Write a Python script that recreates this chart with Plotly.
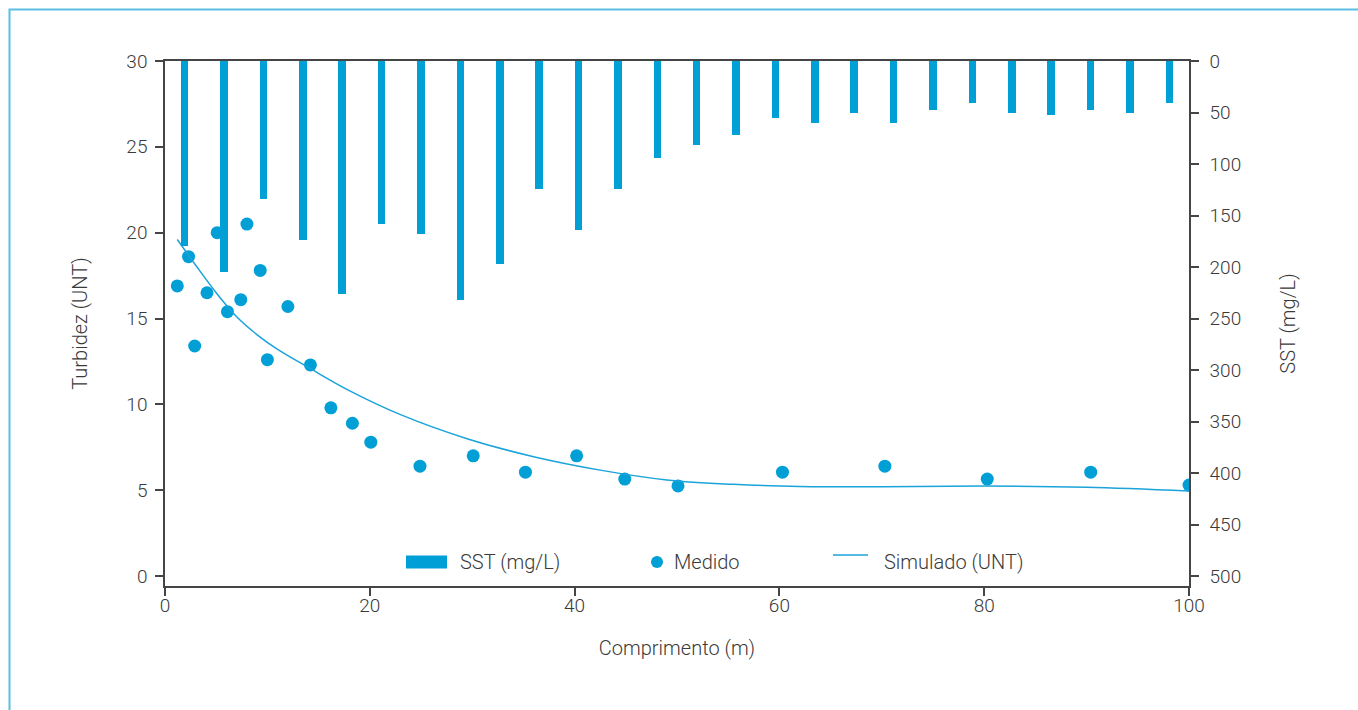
import plotly.graph_objects as go

# ---- data -------------------------------------------------------------
# SST (mg/L) per sampling point, shown as bars hanging from the top axis
sst_points = [str(i) for i in range(1, 27)]
sst_values = [180, 205, 134, 174, 226, 158, 168, 232, 197, 124, 164, 124, 94,
              82, 72, 55, 60, 50, 60, 48, 41, 50, 52, 48, 50, 41]

# measured turbidity (UNT) along the channel
med_x = [1.2, 2.3, 2.9, 4.1, 5.1, 6.1, 7.4, 8.0, 9.3, 10.0, 12.0, 14.2, 16.2,
         18.3, 20.1, 24.9, 30.1, 35.2, 40.2, 44.9, 50.1, 60.3, 70.3, 80.3,
         90.4, 100.0]
med_y = [16.9, 18.6, 13.4, 16.5, 20.0, 15.4, 16.1, 20.5, 17.8, 12.6, 15.7,
         12.3, 9.8, 8.9, 7.8, 6.4, 7.0, 6.05, 7.0, 5.65, 5.25, 6.05, 6.4,
         5.65, 6.05, 5.3]

# simulated turbidity (UNT)
sim_x = [1.2, 3, 5, 7, 9, 11, 14, 18, 23, 29.5, 36, 42.5, 49, 55.5, 62, 70,
         80, 90, 100]
sim_y = [19.6, 18.1, 16.5, 15.1, 14.05, 13.2, 12.15, 10.8, 9.4, 8.0, 6.95,
         6.17, 5.6, 5.34, 5.22, 5.2, 5.24, 5.17, 4.95]

x_ticks = [0, 20, 40, 60, 80, 100]
turb_ticks = [0, 5, 10, 15, 20, 25, 30]
sst_ticks = list(range(0, 501, 50))

# ---- style ------------------------------------------------------------
W, H = 1358, 710
ML, MR, MT, MB = 165, 169, 61, 124
BLUE = "#009fd6"
LINE_BLUE = "#1ba3da"
AXIS = "#454545"
TEXT = "#3a3a3a"
FAMILY = "Roboto"
FONT = dict(family=FAMILY, size=19, color=TEXT, weight=300)
TITLE_FONT = dict(family=FAMILY, size=20, color=TEXT, weight=300)

PW = W - ML - MR
PH = H - MT - MB


def px(x):
    return (x - ML) / PW


def py(y):
    return (H - MB - y) / PH


fig = go.Figure()

fig.add_trace(go.Bar(
    x=sst_points, y=sst_values, name="SST (mg/L)",
    xaxis="x2", yaxis="y2", width=0.19,
    marker=dict(color=BLUE, line=dict(width=0)), showlegend=False,
))
fig.add_trace(go.Scatter(
    x=med_x, y=med_y, name="Medido", mode="markers",
    marker=dict(color=BLUE, size=13), showlegend=False,
))
fig.add_trace(go.Scatter(
    x=sim_x, y=sim_y, name="Simulado (UNT)", mode="lines",
    line=dict(color=LINE_BLUE, width=1.5, shape="spline", smoothing=1.0),
    showlegend=False,
))

axis_common = dict(
    showline=True, linecolor=AXIS, linewidth=1.5,
    ticks="outside", ticklen=8, tickwidth=1.5, tickcolor=AXIS,
    showgrid=False, zeroline=False, tickfont=FONT,
)

fig.update_layout(
    width=W, height=H,
    margin=dict(l=ML, r=MR, t=MT, b=MB, pad=0),
    paper_bgcolor="white", plot_bgcolor="white",
    font=FONT,
    xaxis=dict(range=[0, 100], tickvals=x_ticks, mirror=True,
               ticklabelstandoff=-7,
               title=dict(text="Comprimento (m)", font=TITLE_FONT,
                          standoff=25),
               **axis_common),
    xaxis2=dict(type="category", overlaying="x", range=[-0.5, 25.5],
                visible=False),
    yaxis=dict(range=[-0.58, 30], tickvals=turb_ticks, ticklabelstandoff=4,
               title=dict(text="Turbidez (UNT)", font=TITLE_FONT,
                          standoff=33),
               **axis_common),
    yaxis2=dict(range=[509.7, 0], tickvals=sst_ticks, overlaying="y",
                side="right", ticklabelstandoff=7,
                title=dict(text="SST (mg/L)", font=TITLE_FONT, standoff=41),
                **axis_common),
    bargap=0,
)

# outer frame
fig.add_shape(type="rect", xref="paper", yref="paper",
              x0=px(9.5), x1=px(W + 5), y0=py(H + 10), y1=py(9.5),
              line=dict(color="#5bbee5", width=2), layer="below")

# legend keys
LEG_Y = 562
fig.add_shape(type="rect", xref="paper", yref="paper",
              x0=px(406), x1=px(447), y0=py(LEG_Y + 6.5), y1=py(LEG_Y - 6.5),
              fillcolor=BLUE, line=dict(width=0))
fig.add_shape(type="circle", xref="paper", yref="paper",
              x0=px(651), x1=px(663), y0=py(LEG_Y + 6), y1=py(LEG_Y - 6),
              fillcolor=BLUE, line=dict(width=0))
fig.add_shape(type="line", xref="paper", yref="paper",
              x0=px(833), x1=px(868), y0=py(LEG_Y - 7), y1=py(LEG_Y - 7),
              line=dict(color=LINE_BLUE, width=1.5))
for label, x0 in [("SST (mg/L)", 458), ("Medido", 672),
                  ("Simulado (UNT)", 882)]:
    fig.add_annotation(text=label, xref="paper", yref="paper",
                       x=px(x0), y=py(LEG_Y), xanchor="left",
                       yanchor="middle", showarrow=False, font=TITLE_FONT)

fig.write_html("out.html")
